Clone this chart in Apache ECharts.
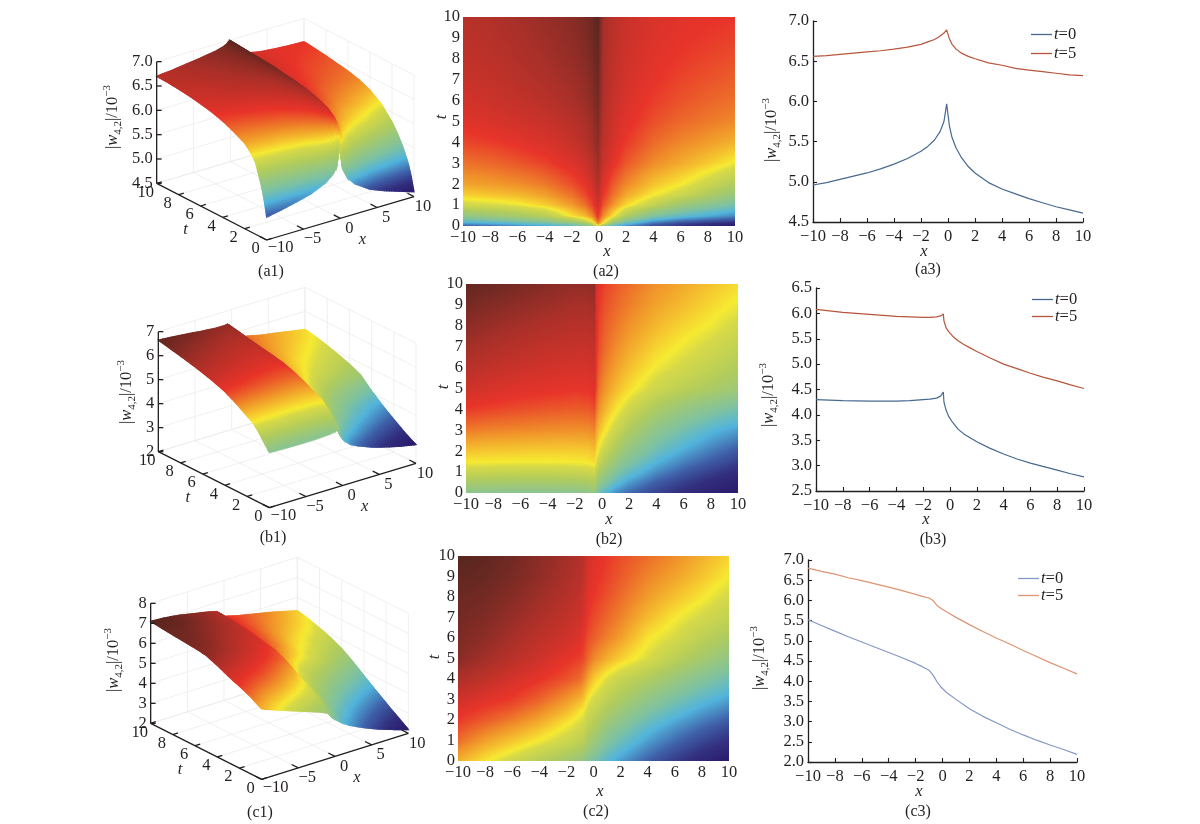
<!DOCTYPE html>
<html lang="en">
<head>
<meta charset="UTF-8">
<title>|w4,2| panels</title>
<script src="https://cdn.jsdelivr.net/npm/echarts@6/dist/echarts.min.js"></script>
<style>
  html,body{margin:0;padding:0;background:#fff;}
  #main{width:1200px;height:824px;}
</style>
</head>
<body>
<div id="main"></div>
<script>
// surface values, rows are t, columns are x
var tRowsA = [0,0.1,0.25,0.5,1,1.5,2,3,4,5,6,7,8,9,10];
var xColsA = [-10,-8,-6,-4,-2,-1,-0.5,-0.1,0.3,1,2,4,6,8,10];
var surfaceA = [
  [4.97,5.03,5.10,5.18,5.32,5.45,5.58,5.97,5.50,5.28,5.12,4.92,4.80,4.70,4.60],
  [5.12,5.17,5.25,5.33,5.48,5.65,5.85,6.30,6.05,5.50,5.25,5.00,4.87,4.78,4.70],
  [5.32,5.38,5.46,5.55,5.76,5.95,6.10,6.42,6.20,5.80,5.48,5.18,5.03,4.95,4.88],
  [5.58,5.64,5.72,5.83,6.10,6.20,6.32,6.52,6.33,6.10,5.78,5.46,5.30,5.20,5.10],
  [5.97,6.00,6.05,6.14,6.28,6.38,6.48,6.62,6.45,6.30,6.12,5.90,5.66,5.52,5.40],
  [6.14,6.17,6.20,6.27,6.38,6.47,6.55,6.68,6.52,6.38,6.25,6.08,5.95,5.78,5.62],
  [6.26,6.28,6.31,6.36,6.46,6.53,6.61,6.73,6.57,6.44,6.33,6.18,6.08,5.95,5.80],
  [6.38,6.40,6.44,6.49,6.57,6.63,6.70,6.80,6.65,6.54,6.44,6.32,6.24,6.16,6.06],
  [6.48,6.50,6.54,6.58,6.65,6.71,6.77,6.85,6.69,6.60,6.51,6.40,6.33,6.28,6.22],
  [6.55,6.58,6.61,6.64,6.70,6.75,6.80,6.88,6.72,6.62,6.55,6.46,6.40,6.36,6.32],
  [6.60,6.63,6.66,6.70,6.76,6.80,6.85,6.92,6.74,6.65,6.58,6.50,6.45,6.41,6.38],
  [6.64,6.66,6.70,6.74,6.79,6.83,6.87,6.94,6.75,6.67,6.60,6.53,6.48,6.45,6.42],
  [6.67,6.69,6.73,6.77,6.82,6.86,6.90,6.96,6.76,6.68,6.62,6.55,6.51,6.48,6.46],
  [6.69,6.71,6.75,6.79,6.84,6.88,6.92,6.98,6.77,6.69,6.63,6.57,6.53,6.51,6.49],
  [6.70,6.73,6.77,6.81,6.86,6.90,6.94,7.00,6.78,6.70,6.64,6.58,6.55,6.53,6.52]
];

var tRowsB = [0,0.1,0.25,0.5,1,1.5,2,3,4,5,6,7,8,9,10];
var xColsB = [-10,-8,-6,-4,-2,-1,-0.55,-0.45,-0.2,0.2,1,2,4,6,8,10];
var surfaceB = [
  [4.30,4.28,4.27,4.27,4.30,4.33,4.44,4.22,4.03,3.85,3.63,3.47,3.23,3.05,2.90,2.78],
  [4.36,4.34,4.33,4.33,4.36,4.39,4.50,4.30,4.10,3.90,3.67,3.50,3.25,3.07,2.92,2.80],
  [4.46,4.44,4.43,4.43,4.46,4.49,4.58,4.42,4.22,4.02,3.75,3.56,3.30,3.11,2.96,2.84],
  [4.62,4.60,4.59,4.59,4.62,4.65,4.72,4.58,4.40,4.20,3.90,3.68,3.39,3.18,3.02,2.90],
  [4.95,4.94,4.93,4.93,4.95,4.97,5.02,4.88,4.70,4.50,4.20,3.96,3.62,3.38,3.20,3.04],
  [5.20,5.19,5.18,5.18,5.19,5.21,5.25,5.12,4.94,4.74,4.44,4.18,3.82,3.56,3.37,3.20],
  [5.35,5.33,5.32,5.31,5.31,5.32,5.36,5.28,5.12,4.95,4.65,4.38,4.02,3.75,3.54,3.36],
  [5.65,5.62,5.60,5.58,5.57,5.58,5.61,5.50,5.38,5.22,4.98,4.72,4.34,4.07,3.85,3.70],
  [5.90,5.86,5.82,5.79,5.77,5.78,5.82,5.70,5.56,5.42,5.22,5.02,4.68,4.44,4.24,4.08],
  [6.08,6.02,5.98,5.95,5.92,5.93,5.98,5.85,5.68,5.55,5.39,5.25,5.00,4.82,4.67,4.52],
  [6.22,6.15,6.10,6.06,6.03,6.04,6.08,5.92,5.76,5.64,5.50,5.37,5.17,5.03,4.88,4.73],
  [6.34,6.27,6.21,6.16,6.13,6.13,6.16,5.96,5.82,5.71,5.59,5.47,5.29,5.16,5.03,4.89],
  [6.45,6.38,6.32,6.26,6.22,6.22,6.25,5.99,5.86,5.76,5.66,5.56,5.40,5.27,5.17,5.03],
  [6.55,6.49,6.43,6.37,6.32,6.32,6.35,6.02,5.90,5.81,5.72,5.64,5.49,5.38,5.27,5.16],
  [6.65,6.60,6.54,6.47,6.42,6.42,6.44,6.05,5.95,5.86,5.78,5.70,5.56,5.46,5.35,5.25]
];

var tRowsC = [0,0.5,1,1.5,2,2.5,3,4,5,6,7,8,9,10];
var xColsC = [-10,-8,-6,-4,-2,-1,-0.7,-0.4,0,1,2,4,6,8,10];
var surfaceC = [
  [5.52,5.24,4.97,4.71,4.44,4.27,4.15,3.98,3.85,3.55,3.32,2.97,2.67,2.42,2.19],
  [5.68,5.42,5.20,4.96,4.72,4.55,4.45,4.28,4.12,3.76,3.52,3.15,2.86,2.60,2.38],
  [5.85,5.60,5.40,5.20,4.96,4.80,4.72,4.52,4.36,3.98,3.73,3.34,3.04,2.78,2.57],
  [5.98,5.78,5.60,5.40,5.14,4.98,4.90,4.72,4.58,4.19,3.94,3.53,3.23,2.97,2.75],
  [6.10,5.94,5.78,5.58,5.30,5.12,5.05,4.86,4.74,4.40,4.15,3.74,3.43,3.17,2.95],
  [6.20,6.06,5.94,5.74,5.50,5.28,5.20,5.02,4.90,4.60,4.36,3.95,3.64,3.37,3.15],
  [6.32,6.18,6.08,5.90,5.65,5.48,5.38,5.18,5.02,4.78,4.56,4.17,3.85,3.58,3.35],
  [6.58,6.44,6.28,6.14,5.98,5.86,5.74,5.58,5.38,5.10,4.88,4.62,4.30,4.00,3.76],
  [6.80,6.65,6.49,6.33,6.15,6.06,6.00,5.87,5.72,5.52,5.34,5.07,4.76,4.46,4.18],
  [6.88,6.78,6.62,6.46,6.32,6.22,6.12,6.00,5.92,5.76,5.60,5.24,5.05,4.78,4.55],
  [6.93,6.86,6.72,6.58,6.43,6.33,6.24,6.10,6.02,5.88,5.74,5.45,5.22,5.02,4.82],
  [6.98,6.93,6.82,6.68,6.53,6.42,6.33,6.18,6.10,5.98,5.85,5.62,5.42,5.24,5.02],
  [7.04,7.00,6.90,6.76,6.60,6.50,6.40,6.25,6.16,6.05,5.94,5.74,5.58,5.40,5.20],
  [7.10,7.05,6.95,6.80,6.65,6.55,6.45,6.30,6.20,6.10,6.00,5.85,5.70,5.52,5.33]
];

// line panels
var a3X = [-10,-9,-8,-7,-6,-5,-4,-3,-2,-1.5,-1,-0.6,-0.3,-0.1,0.1,0.3,0.6,1,1.5,2,3,4,5,6,7,8,9,10];
var a3T0 = [4.96,4.99,5.03,5.07,5.11,5.16,5.22,5.29,5.38,5.44,5.52,5.62,5.75,5.97,5.70,5.55,5.42,5.30,5.19,5.11,4.99,4.91,4.85,4.79,4.74,4.69,4.65,4.61];
var a3T5 = [6.56,6.57,6.585,6.60,6.615,6.63,6.65,6.675,6.71,6.74,6.77,6.81,6.85,6.89,6.78,6.71,6.65,6.60,6.56,6.53,6.48,6.45,6.41,6.39,6.37,6.35,6.33,6.32];

var b3X = [-10,-9,-8,-7,-6,-5,-4,-3,-2,-1.5,-1,-0.7,-0.5,-0.45,-0.3,-0.1,0.2,0.6,1,1.5,2,3,4,5,6,7,8,9,10];
var b3T0 = [4.30,4.29,4.28,4.275,4.27,4.27,4.27,4.28,4.30,4.31,4.33,4.37,4.45,4.25,4.10,3.97,3.85,3.72,3.63,3.55,3.47,3.34,3.23,3.13,3.05,2.98,2.91,2.84,2.78];
var b3T5 = [6.08,6.05,6.02,6.00,5.98,5.96,5.94,5.93,5.92,5.92,5.93,5.95,5.99,5.85,5.72,5.64,5.55,5.46,5.39,5.32,5.25,5.12,5.00,4.91,4.82,4.74,4.67,4.59,4.52];

var c3X = [-10,-9,-8,-7,-6,-5,-4,-3,-2,-1.5,-1,-0.7,-0.4,-0.1,0.3,1,2,3,4,5,6,7,8,9,10];
var c3T0 = [5.52,5.38,5.24,5.10,4.97,4.84,4.71,4.58,4.44,4.36,4.27,4.15,3.98,3.85,3.72,3.55,3.32,3.13,2.97,2.81,2.67,2.54,2.42,2.31,2.19];
var c3T5 = [6.80,6.72,6.65,6.56,6.49,6.41,6.33,6.24,6.15,6.10,6.06,6.00,5.87,5.80,5.72,5.58,5.40,5.23,5.07,4.92,4.76,4.61,4.46,4.32,4.18];

// tick labels of the 3d boxes
var xTicks3d = [-10,-5,0,5,10];
var tTicks3d = [0,2,4,6,8,10];
var zTicksA = [4.5,5,5.5,6,6.5,7];
var zTicksB = [2,3,4,5,6,7];
var zTicksC = [2,3,4,5,6,7,8];

var SERIF = '"Liberation Serif","Times New Roman",serif';
var INK = '#231f20';
var FS = 16.5;

var colorStops = [
  [0,[42,26,107]],[0.08,[51,48,127]],[0.16,[63,95,168]],[0.26,[82,180,220]],[0.35,[127,194,160]],
  [0.5,[178,204,92]],[0.585,[214,217,72]],[0.615,[246,234,50]],[0.645,[246,205,48]],[0.71,[240,146,42]],[0.8,[232,52,42]],[0.9,[169,48,41]],[1,[88,38,32]]
];

function colorOf(v, lo, hi){
  var p = (v-lo)/(hi-lo);
  p = Math.max(0, Math.min(1, p));
  for (var i=1;i<colorStops.length;i++){
    if (p <= colorStops[i][0]){
      var a = colorStops[i-1], b = colorStops[i];
      var f = (p-a[0])/(b[0]-a[0]);
      return 'rgb('+Math.round(a[1][0]+(b[1][0]-a[1][0])*f)+','+Math.round(a[1][1]+(b[1][1]-a[1][1])*f)+','+Math.round(a[1][2]+(b[1][2]-a[1][2])*f)+')';
    }
  }
  return 'rgb(88,38,32)';
}

// one data item per grid cell: x0,t0,x1,t1 and the four corner values
function cellsOf(xs, ts, rows){
  var out = [];
  for (var i=xs.length-2;i>=0;i--){
    for (var j=ts.length-2;j>=0;j--){
      out.push([xs[i],ts[j],xs[i+1],ts[j+1],rows[j][i],rows[j][i+1],rows[j+1][i],rows[j+1][i+1]]);
    }
  }
  return out;
}

function shade(api,u,s){
  // interp shading inside a cell, like shading interp in the original plot
  return api.value(4)*(1-u)*(1-s)+api.value(5)*u*(1-s)+api.value(6)*(1-u)*s+api.value(7)*u*s;
}

// a cell is a stack of one pixel strips, each with a gradient across x
function heatRender(lo,hi){
  return function(params,api){
    var tl = api.coord([api.value(0),api.value(3)]);
    var br = api.coord([api.value(2),api.value(1)]);
    var x0=Math.round(tl[0]), x1=Math.round(br[0]), y0=Math.round(tl[1]), y1=Math.round(br[1]);
    var kids = [];
    if (x1<=x0) x1=x0+1;
    var stops = Math.max(2,Math.ceil((x1-x0)/1.5));
    for (var y=y0;y<y1;y++){
      var s = 1-(y+0.5-y0)/(y1-y0);
      var cs = [];
      for (var i=0;i<=stops;i++){
        cs.push({offset:i/stops,color:colorOf(shade(api,i/stops,s),lo,hi)});
      }
      kids.push({type:'rect',silent:true,
        shape:{x:x0,y:y,width:x1-x0,height:1},
        style:{fill:{type:'linear',x:0,y:0,x2:1,y2:0,colorStops:cs}}});
    }
    return {type:'group',children:kids};
  };
}

function projector(box){
  return function(x,t,z){
    var a=(x+10)/20, b=t/10;
    return [
      box.front[0]+a*(box.right[0]-box.front[0])+b*(box.left[0]-box.front[0]),
      box.front[1]+a*(box.right[1]-box.front[1])+b*(box.left[1]-box.front[1])-(z-box.zLo)/(box.zHi-box.zLo)*box.zH
    ];
  };
}

function surfRender(box,lo,hi){
  var pr = projector(box);
  return function(params,api){
    var x0=api.value(0),t0=api.value(1),x1=api.value(2),t1=api.value(3);
    var c00=api.coord(pr(x0,t0,api.value(4))), c11=api.coord(pr(x1,t1,api.value(7)));
    var c10=api.coord(pr(x1,t0,api.value(5))), c01=api.coord(pr(x0,t1,api.value(6)));
    var nx=Math.max(1,Math.min(16,Math.ceil(Math.hypot(c10[0]-c00[0],c10[1]-c00[1])/2.5)));
    var ny=Math.max(1,Math.min(24,Math.ceil(Math.max(Math.hypot(c01[0]-c00[0],c01[1]-c00[1]),Math.hypot(c11[0]-c10[0],c11[1]-c10[1]))/2)));
    var kids=[];
    function pt(u,s){
      return api.coord(pr(x0+(x1-x0)*u,t0+(t1-t0)*s,shade(api,u,s)));
    }
    for (var i=nx-1;i>=0;i--){
      for (var j=ny-1;j>=0;j--){
        var col=colorOf(shade(api,(i+0.5)/nx,(j+0.5)/ny),lo,hi);
        kids.push({type:'polygon',silent:true,
          shape:{points:[pt(i/nx,j/ny),pt((i+1)/nx,j/ny),pt((i+1)/nx,(j+1)/ny),pt(i/nx,(j+1)/ny)]},
          style:{fill:col,stroke:col,lineWidth:1.2}});
      }
    }
    return {type:'group',children:kids};
  };
}

function wallsRender(box,zTicks){
  var pr=projector(box);
  return function(params,api){
    var kids=[];
    function seg(a,b){
      var p=api.coord(a),q=api.coord(b);
      kids.push({type:'line',silent:true,shape:{x1:p[0],y1:p[1],x2:q[0],y2:q[1]},style:{stroke:'#e9e9e9',lineWidth:0.7}});
    }
    xTicks3d.forEach(function(x){
      seg(pr(x,0,box.zLo),pr(x,10,box.zLo));
      seg(pr(x,10,box.zLo),pr(x,10,box.zHi));
    });
    tTicks3d.forEach(function(t){
      seg(pr(-10,t,box.zLo),pr(10,t,box.zLo));
      seg(pr(10,t,box.zLo),pr(10,t,box.zHi));
    });
    zTicks.forEach(function(z){
      seg(pr(-10,10,z),pr(10,10,z));
      seg(pr(10,10,z),pr(10,0,z));
    });
    return {type:'group',children:kids};
  };
}

function axesRender(box,zTicks,zDigits){
  var pr=projector(box);
  return function(params,api){
    var kids=[];
    function seg(a,b,off){
      var p=api.coord(a),q=api.coord(b);
      if(off){q=[p[0]+off,p[1]];}
      kids.push({type:'line',silent:true,shape:{x1:p[0],y1:p[1],x2:q[0],y2:q[1]},style:{stroke:INK,lineWidth:1.3}});
    }
    function txt(s,a,dx,dy,ital,al){
      var p=api.coord(a);
      kids.push({type:'text',silent:true,x:p[0]+dx,y:p[1]+dy,
        style:{text:s,fill:INK,fontSize:FS,fontFamily:SERIF,fontStyle:ital?'italic':'normal',align:al||'center',verticalAlign:'middle'}});
    }
    var zl=box.zLo,zh=box.zHi;
    seg(pr(-10,10,zl),pr(-10,10,zh));
    seg(pr(-10,10,zl),pr(-10,0,zl));
    seg(pr(-10,0,zl),pr(10,0,zl));
    zTicks.forEach(function(z){
      seg(pr(-10,10,z),pr(-10,10,z),5);
      txt(zDigits?z.toFixed(zDigits):String(z),pr(-10,10,z),-4,0,false,'right');
    });
    tTicks3d.forEach(function(t){
      seg(pr(-10,t,zl),pr(-9.3,t,zl));
      txt(String(t),pr(-10,t,zl),-11,9);
    });
    xTicks3d.forEach(function(x){
      seg(pr(x,0,zl),pr(x,0.6,zl));
      txt(String(x).replace('-','\u2212'),pr(x,0,zl),x===-10?14:9,x===-10?8:10);
    });
    txt('t',pr(-10,5,zl),-26,18,true);
    txt('x',pr(0,0,zl),22,21,true);
    return {type:'group',children:kids};
  };
}

var panels = [
  {xs:xColsA,ts:tRowsA,rows:surfaceA,lo:4.6,hi:7.0,zTicks:zTicksA,zDigits:1,
   g3:{left:90,top:10},box:{front:[530,690],right:[972,560],left:[200,520],zLo:4.5,zHi:7,zH:365},
   heat:{left:463,top:17,width:272,height:209},
   line:{left:813,top:21,width:270,height:201},lineRange:[4.5,7],lx:a3X,l0:a3T0,l5:a3T5,cols:['#47698f','#b7553c'],tag:'a',legend:[1031,26],gap:2},
  {xs:xColsB,ts:tRowsB,rows:surfaceB,lo:2.78,hi:6.7,zTicks:zTicksB,zDigits:0,
   g3:{left:90,top:280},box:{front:[538,683],right:[978,550],left:[205,515],zLo:2,zHi:7,zH:360},
   heat:{left:466,top:284,width:272,height:209},
   line:{left:816,top:288,width:268,height:203},lineRange:[2.5,6.5],lx:b3X,l0:b3T0,l5:b3T5,cols:['#47698f','#b7553c'],tag:'b',legend:[1032,291],gap:0},
  {xs:xColsC,ts:tRowsC,rows:surfaceC,lo:2.19,hi:7.1,zTicks:zTicksC,zDigits:0,
   g3:{left:90,top:550},box:{front:[515,688],right:[955,550],left:[182,520],zLo:2,zHi:8,zH:360},
   heat:{left:458,top:556,width:271,height:205},
   line:{left:808,top:560,width:269,height:202},lineRange:[2,7],lx:c3X,l0:c3T0,l5:c3T5,cols:['#8497c6','#dd9472'],tag:'c',legend:[1018,570],gap:0}
];

var captions = [
  ['(a1)',271,272],['(a2)',606,272],['(a3)',928,270],
  ['(b1)',273,538],['(b2)',609,540],['(b3)',933,540],
  ['(c1)',260,813],['(c2)',596,812],['(c3)',918,812]
];
var wLabels = [[113,117],[127,392],[114,660],[772,130],[769,395],[760,658]];
var xNames = [[607,252],[924,252],[609,520],[926,520],[600,792],[919,792]];
var tNames = [[442,117],[444,387],[435,657]];
var minusFmt = function(v){return String(v).replace('-','\u2212');};

var grids=[],xAxes=[],yAxes=[],series=[],legends=[],graphics=[];

function labelStyle(m){return {color:INK,fontSize:FS,fontFamily:SERIF,margin:m,formatter:minusFmt};}

panels.forEach(function(p){
  var cells = cellsOf(p.xs,p.ts,p.rows);

  // 3d box: hidden axes, one unit is a third of a pixel
  var gi=grids.length;
  grids.push({left:p.g3.left,top:p.g3.top,width:340,height:274});
  xAxes.push({gridIndex:gi,type:'value',min:0,max:1020,show:false});
  yAxes.push({gridIndex:gi,type:'value',min:0,max:822,inverse:true,show:false});
  series.push({type:'custom',xAxisIndex:gi,yAxisIndex:gi,silent:true,animation:false,clip:false,z:1,
    renderItem:wallsRender(p.box,p.zTicks),data:[[0,0]]});
  series.push({type:'custom',xAxisIndex:gi,yAxisIndex:gi,silent:true,animation:false,clip:false,z:2,progressive:0,
    name:'surface '+p.tag,renderItem:surfRender(p.box,p.lo,p.hi),dimensions:['x0','t0','x1','t1','v00','v10','v01','v11'],data:cells});
  series.push({type:'custom',xAxisIndex:gi,yAxisIndex:gi,silent:true,animation:false,clip:false,z:3,
    renderItem:axesRender(p.box,p.zTicks,p.zDigits),data:[[0,0]]});

  // map
  gi=grids.length;
  grids.push(p.heat);
  xAxes.push({gridIndex:gi,type:'value',min:-10,max:10,interval:2,splitLine:{show:false},axisLine:{show:false},axisTick:{show:false},
    axisLabel:labelStyle(3)});
  yAxes.push({gridIndex:gi,type:'value',min:0,max:10,interval:1,splitLine:{show:false},axisLine:{show:false},axisTick:{show:false},
    axisLabel:labelStyle(3)});
  series.push({type:'custom',xAxisIndex:gi,yAxisIndex:gi,silent:true,animation:false,progressive:0,
    name:'map '+p.tag,renderItem:heatRender(p.lo,p.hi),encode:{x:[0,2],y:[1,3]},data:cells});

  // profiles
  gi=grids.length;
  grids.push(p.line);
  var axLine={onZero:false,lineStyle:{color:INK,width:1.3}};
  var axTick={inside:true,length:4,lineStyle:{color:INK,width:1.1}};
  xAxes.push({gridIndex:gi,type:'value',min:-10,max:10,interval:2,splitLine:{show:false},axisLine:axLine,axisTick:axTick,
    axisLabel:labelStyle(6)});
  yAxes.push({gridIndex:gi,type:'value',min:p.lineRange[0],max:p.lineRange[1],interval:0.5,splitLine:{show:false},axisLine:axLine,axisTick:axTick,
    axisLabel:{color:INK,fontSize:FS,fontFamily:SERIF,margin:4,formatter:function(v){return v.toFixed(1);}}});
  var n0=p.tag+' t=0', n5=p.tag+' t=5';
  series.push({type:'line',name:n0,xAxisIndex:gi,yAxisIndex:gi,symbol:'none',animation:false,silent:true,
    lineStyle:{color:p.cols[0],width:1.2},itemStyle:{color:p.cols[0]},
    data:p.lx.map(function(x,i){return [x,p.l0[i]];})});
  series.push({type:'line',name:n5,xAxisIndex:gi,yAxisIndex:gi,symbol:'none',animation:false,silent:true,
    lineStyle:{color:p.cols[1],width:1.2},itemStyle:{color:p.cols[1]},
    data:p.lx.map(function(x,i){return [x,p.l5[i]];})});
  legends.push({data:[n0,n5],orient:'vertical',left:p.legend[0],top:p.legend[1],padding:0,icon:'rect',itemWidth:21,itemHeight:1.3,itemGap:p.gap,selectedMode:false,
    formatter:function(name){return '{i|t}{n|='+name.split('=')[1]+'}';},
    textStyle:{padding:[0,0,0,-3],rich:{i:{fontSize:FS,fontFamily:SERIF,fontStyle:'italic',color:INK,lineHeight:15},n:{fontSize:FS,fontFamily:SERIF,color:INK,lineHeight:15}}}});
});

captions.forEach(function(c){
  graphics.push({type:'text',x:c[1],y:c[2],silent:true,
    style:{text:c[0],fill:INK,fontSize:16,fontFamily:SERIF,align:'center',verticalAlign:'middle'}});
});
xNames.forEach(function(c){
  graphics.push({type:'text',x:c[0],y:c[1],silent:true,
    style:{text:'x',fill:INK,fontSize:FS,fontStyle:'italic',fontFamily:SERIF,align:'center',verticalAlign:'middle'}});
});
tNames.forEach(function(c){
  graphics.push({type:'text',x:c[0],y:c[1],rotation:Math.PI/2,silent:true,
    style:{text:'t',fill:INK,fontSize:FS,fontStyle:'italic',fontFamily:SERIF,align:'center',verticalAlign:'middle'}});
});
wLabels.forEach(function(w){
  graphics.push({type:'text',x:w[0],y:w[1],rotation:Math.PI/2,silent:true,
    style:{text:'{n||}{i|w}{s|4,2}{n||/10}{u|\u22123}',fill:INK,fontSize:FS,fontFamily:SERIF,align:'center',verticalAlign:'middle',
      rich:{n:{fontSize:FS,fontFamily:SERIF,fill:INK,lineHeight:22},
        i:{fontSize:FS,fontFamily:SERIF,fontStyle:'italic',fill:INK,lineHeight:22},
        s:{fontSize:11,fontFamily:SERIF,fill:INK,verticalAlign:'bottom',lineHeight:22},
        u:{fontSize:11,fontFamily:SERIF,fill:INK,verticalAlign:'top',lineHeight:22}}}});
});

var myChart = echarts.init(document.getElementById('main'),null,{renderer:'canvas'});
myChart.setOption({
  backgroundColor:'#ffffff',
  animation:false,
  grid:grids,
  xAxis:xAxes,
  yAxis:yAxes,
  legend:legends,
  graphic:graphics,
  series:series
});
</script>
</body>
</html>
